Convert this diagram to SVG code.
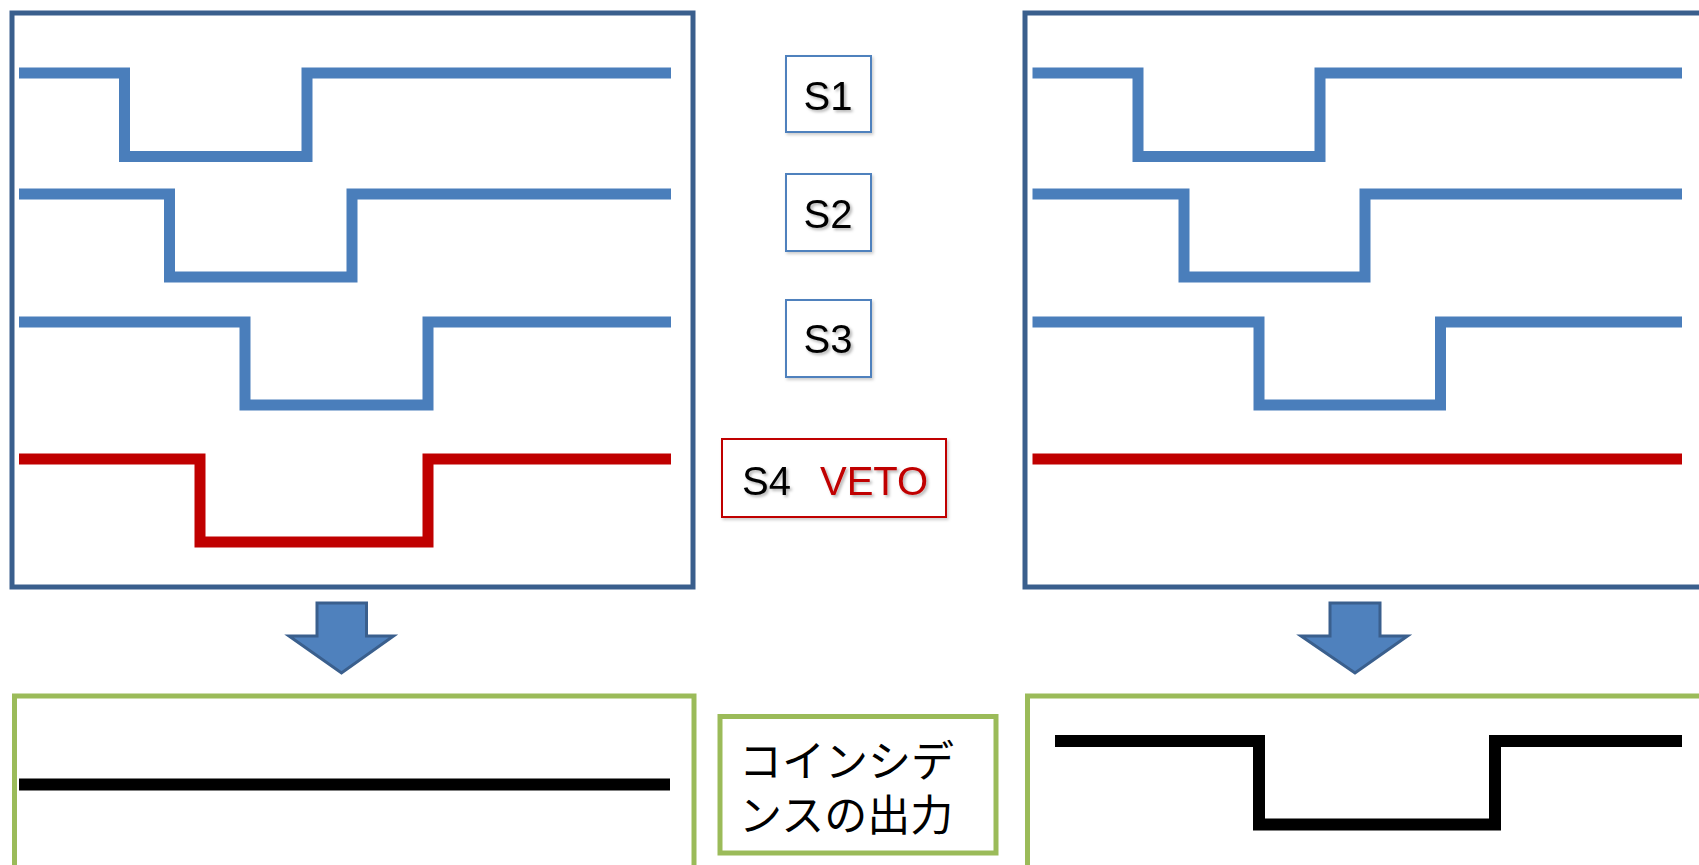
<svg xmlns="http://www.w3.org/2000/svg" width="1699" height="865" viewBox="0 0 1699 865">
  <defs>
    <filter id="tshadow" x="-20%" y="-20%" width="140%" height="140%">
      <feDropShadow dx="2" dy="2" stdDeviation="1.5" flood-color="#000" flood-opacity="0.3"/>
    </filter>
    <filter id="bshadow" x="-10%" y="-10%" width="130%" height="130%">
      <feDropShadow dx="1.5" dy="2" stdDeviation="1.5" flood-color="#000" flood-opacity="0.2"/>
    </filter>
  </defs>
  <style>
    .frame { fill: none; stroke: #3A5F8D; stroke-width: 5; }
    .gframe { fill: none; stroke: #9BBB59; stroke-width: 5; }
    .sig { fill: none; stroke: #4A7EBB; stroke-width: 11; stroke-linejoin: miter; stroke-linecap: butt; }
    .veto { fill: none; stroke: #C00000; stroke-width: 11; stroke-linejoin: miter; stroke-linecap: butt; }
    .out { fill: none; stroke: #000; stroke-width: 12; stroke-linejoin: miter; stroke-linecap: butt; }
    .lbox { fill: #fff; stroke: #4F81BD; stroke-width: 2; filter: url(#bshadow); }
    .rbox { fill: #fff; stroke: #C00000; stroke-width: 2; filter: url(#bshadow); }
    .lbl { font-family: "Liberation Sans", Arial, sans-serif; font-size: 40px; fill: #000; filter: url(#tshadow); }
    .jp { font-family: "Noto Sans CJK JP", "Noto Sans", sans-serif; font-size: 43px; fill: #000; }
    .arrow { fill: #4F81BD; stroke: #3A5F8D; stroke-width: 3; stroke-linejoin: miter; }
  </style>
  <rect width="1699" height="865" fill="#fff"/>

  <g id="left-panel">
    <rect class="frame" x="12" y="13" width="681" height="574"/>
    <polyline class="sig" points="19,73 124.5,73 124.5,156.5 307,156.5 307,73 671,73"/>
    <polyline class="sig" points="19,194 169.5,194 169.5,277 352,277 352,194 671,194"/>
    <polyline class="sig" points="19,322 245,322 245,405 428,405 428,322 671,322"/>
    <polyline class="veto" points="19,459 200,459 200,542 428,542 428,459 671,459"/>
  </g>

  <g id="right-panel">
    <rect class="frame" x="1025" y="13" width="700" height="574"/>
    <polyline class="sig" points="1032.5,73 1138,73 1138,156.5 1320,156.5 1320,73 1682,73"/>
    <polyline class="sig" points="1032.5,194 1184,194 1184,277 1365,277 1365,194 1682,194"/>
    <polyline class="sig" points="1032.5,322 1259,322 1259,405 1440.5,405 1440.5,322 1682,322"/>
    <polyline class="veto" points="1032.5,459 1682,459"/>
  </g>

  <g id="label-s1">
    <rect class="lbox" x="786" y="56" width="85" height="76"/>
    <text class="lbl" x="828" y="110" text-anchor="middle">S1</text>
  </g>
  <g id="label-s2">
    <rect class="lbox" x="786" y="174" width="85" height="77"/>
    <text class="lbl" x="828" y="228" text-anchor="middle">S2</text>
  </g>
  <g id="label-s3">
    <rect class="lbox" x="786" y="300" width="85" height="77"/>
    <text class="lbl" x="828" y="353" text-anchor="middle">S3</text>
  </g>
  <g id="label-s4">
    <rect class="rbox" x="722" y="439" width="224" height="78"/>
    <text class="lbl" y="495"><tspan x="742">S4</tspan><tspan x="820" fill="#C00000">VETO</tspan></text>
  </g>

  <g id="connectors">
    <polygon class="arrow" points="317,603 366.5,603 366.5,636 393.5,636 341.5,673 289,636 317,636"/>
    <polygon class="arrow" points="1330,603 1380,603 1380,636 1407.5,636 1355,673 1301,636 1330,636"/>
  </g>

  <g id="output-left">
    <rect class="gframe" x="14.5" y="696" width="679.5" height="200"/>
    <line class="out" x1="19" y1="784.5" x2="670" y2="784.5"/>
  </g>

  <g id="output-right">
    <rect class="gframe" x="1027.5" y="696" width="700" height="200"/>
    <polyline class="out" points="1055,741 1259,741 1259,824.5 1495,824.5 1495,741 1682,741"/>
  </g>

  <g id="label-output">
    <rect class="gframe" x="720" y="716.5" width="276" height="136.5" fill="#fff"/>
    <text class="jp" x="739" y="777">コインシデ</text>
    <text class="jp" x="739" y="831">ンスの出力</text>
  </g>
</svg>
